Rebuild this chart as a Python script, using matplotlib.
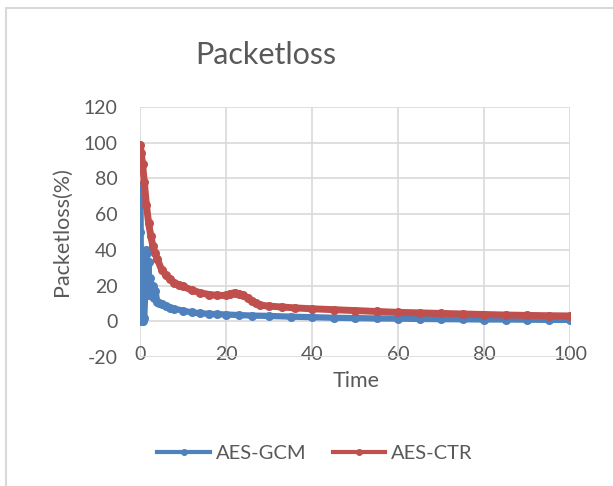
import matplotlib
matplotlib.use("Agg")
import matplotlib.pyplot as plt
from matplotlib.lines import Line2D
from matplotlib.patches import Rectangle

# packet loss readings (time, % lost)
gcm_time = [0, 0.05, 0.1, 0.15, 0.2, 0.25, 0.3, 0.4, 0.7, 1.0, 1.2, 1.4, 1.6,
            1.8, 2.0, 2.2, 2.4, 2.7, 3.0, 3.3, 3.6, 4.0, 4.5, 5, 6, 7, 8, 10,
            12, 14, 16, 18, 20, 23, 26, 30, 35, 40, 45, 50, 55, 60, 65, 70,
            75, 80, 85, 90, 95, 100]
gcm_loss = [0, 75, 50, 33, 17, 12, 8, 0, 0, 2, 15, 40, 38, 20, 33, 15, 24,
            14, 20, 13, 17, 11, 10, 9.5, 8.5, 7.5, 7, 6, 5, 4.5, 4.2, 4, 3.8,
            3.5, 3.2, 3, 2.6, 2.3, 2, 1.8, 1.6, 1.5, 1.3, 1.2, 1.1, 1.0, 1.0,
            0.9, 0.8, 0.8]

ctr_time = [0, 0.3, 0.6, 1.0, 1.5, 2.0, 2.5, 3.0, 3.5, 4.0, 5, 6, 7, 8, 9,
            10, 12, 14, 16, 18, 20, 21, 22, 23, 24, 25, 26, 27, 28, 30, 33,
            36, 40, 45, 50, 55, 60, 65, 70, 75, 80, 85, 90, 95, 100]
ctr_loss = [99, 94, 88, 78, 65, 55, 48, 42, 38, 35, 29, 26, 23.5, 21.5, 20.5,
            19.5, 17.5, 16, 15, 14.5, 14.5, 15.5, 16, 15.5, 14.5, 13, 11.5,
            10, 9, 8.5, 8, 7.5, 7, 6.5, 6, 5.5, 5, 4.7, 4.4, 4.1, 3.8, 3.5,
            3.3, 3.1, 3.0]

x_ticks = [0, 20, 40, 60, 80, 100]
y_ticks = [-20, 0, 20, 40, 60, 80, 100, 120]

blue = "#4f81bd"
red = "#c0504d"
grey = "#d9d9d9"
txt = "#595959"

plt.rcParams["font.family"] = ["Lato", "DejaVu Sans"]
plt.rcParams["axes.unicode_minus"] = False

W, H = 613, 486
fig = plt.figure(figsize=(W / 100, H / 100), dpi=100)
ax = fig.add_axes([140 / W, 1 - 357 / H, 430 / W, 250 / H])

ax.plot(gcm_time, gcm_loss, color=blue, lw=4.5, marker="o", ms=6.5,
        mew=0, solid_joinstyle="round", solid_capstyle="round", zorder=3)
ax.plot(ctr_time, ctr_loss, color=red, lw=5, marker="o", ms=6.5,
        mew=0, solid_joinstyle="round", solid_capstyle="round", zorder=4)

ax.set_xlim(0, 100)
ax.set_ylim(-20, 120)
ax.set_xticks(x_ticks)
ax.set_yticks(y_ticks)
ax.grid(True, color=grey, lw=1.2)
ax.set_axisbelow(True)
for s in ax.spines.values():
    s.set_visible(False)
ax.tick_params(length=0, labelsize=14, labelcolor=txt)
ax.tick_params(axis="x", pad=-8)
ax.tick_params(axis="y", pad=16)

fig.text(266 / W, 1 - 55 / H, "Packetloss", fontsize=22, color=txt,
         ha="center", va="center")
fig.text(62 / W, 1 - 232 / H, "Packetloss(%)", fontsize=15.5, color=txt,
         ha="center", va="center", rotation=90)
fig.text(356 / W, 1 - 381 / H, "Time", fontsize=15.5, color=txt,
         ha="center", va="center")

handles = [Line2D([], [], color=blue, lw=3, marker="o", ms=4),
           Line2D([], [], color=red, lw=3, marker="o", ms=4)]
fig.legend(handles, ["AES-GCM", "AES-CTR"], loc="center",
           bbox_to_anchor=(315 / W, 1 - 453 / H), ncol=2, frameon=False,
           fontsize=14.5, labelcolor=txt, handlelength=2.6, columnspacing=1.3,
           handletextpad=0.3)

# chart area border (cropped on the right and bottom)
fig.patches.append(Rectangle((6 / W, -0.1), 1.2, 1.1 - 8 / H,
                             transform=fig.transFigure, fill=False,
                             edgecolor=grey, lw=1.5))

fig.savefig("out.png", dpi=100, facecolor="white")
